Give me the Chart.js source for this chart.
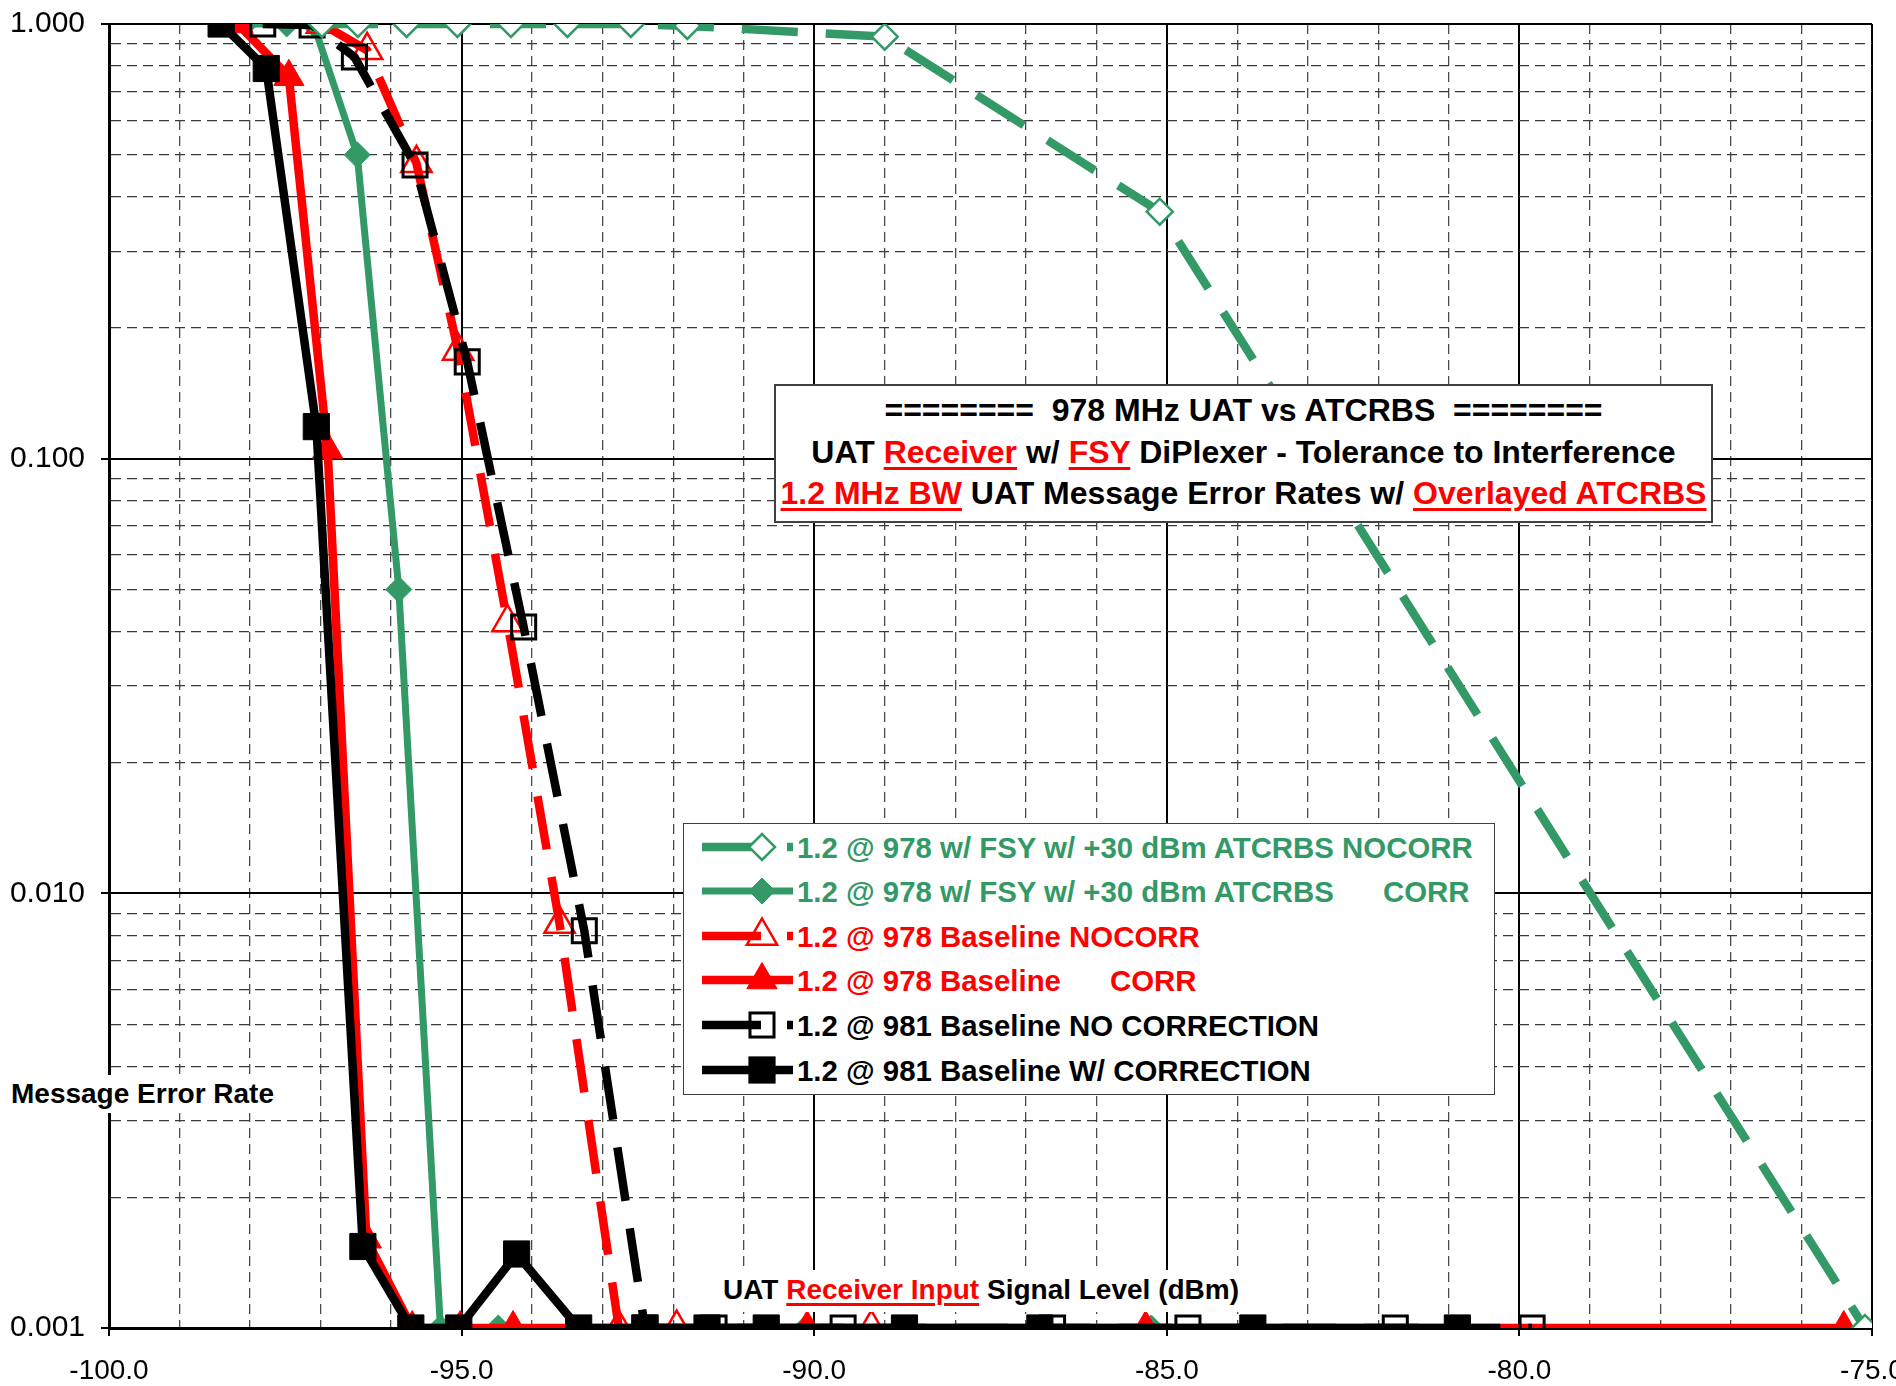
<!DOCTYPE html>
<html>
<head>
<meta charset="utf-8">
<script src="https://cdn.jsdelivr.net/npm/chart.js@4.4.1/dist/chart.umd.min.js"></script>
<style>
html,body{margin:0;padding:0;background:#fff;}
#wrap{position:relative;width:1896px;height:1386px;overflow:hidden;font-family:"Liberation Sans",Arial,Helvetica,sans-serif;background:#fff;}
#c{position:absolute;left:0;top:0;}
.ov{position:absolute;white-space:pre;font-weight:bold;color:#000;}
.u{color:#ff0000;text-decoration:underline;text-decoration-color:#ff0000;text-decoration-thickness:3px;text-underline-offset:4px;}
#ytitle{left:4px;top:1075px;height:38px;line-height:38px;font-size:28px;padding:0 7px;background:#fff;}
#xtitle{left:981px;top:1270px;height:42px;line-height:40px;font-size:28px;padding:0 6px;background:#fff;transform:translateX(-50%);}
#tbox{position:absolute;left:774px;top:384px;width:935px;height:131px;border:2px solid #404040;background:#fff;text-align:center;font-weight:bold;font-size:32px;line-height:41.5px;padding-top:4px;box-sizing:content-box;white-space:pre;}
#tbox div{height:41.5px;}
#legend{position:absolute;left:683px;top:823px;width:810px;height:270px;border:1.5px solid #404040;background:#fff;}
.lrow{position:absolute;left:0;height:44.6px;width:810px;}
.lrow svg{position:absolute;left:16px;top:0;}
.ltext{position:absolute;left:113px;top:0;line-height:44.6px;font-size:29.4px;font-weight:bold;white-space:pre;}
</style>
</head>
<body>
<div id="wrap">
  <canvas id="c" width="1896" height="1386"></canvas>
  <div id="tbox"><div>========  978 MHz UAT vs ATCRBS  ========</div><div>UAT <span class="u">Receiver</span> w/ <span class="u">FSY</span> DiPlexer - Tolerance to Interference</div><div><span class="u">1.2 MHz BW</span> UAT Message Error Rates w/ <span class="u">Overlayed ATCRBS</span></div></div>
  <div id="legend"></div>
  <div id="ytitle" class="ov">Message Error Rate</div>
  <div id="xtitle" class="ov">UAT <span class="u">Receiver Input</span> Signal Level (dBm)</div>
</div>
<script>
// ---------------- DATA ----------------
const seriesNames = [
  "1.2 @ 978 w/ FSY w/ +30 dBm ATCRBS NOCORR",
  "1.2 @ 978 w/ FSY w/ +30 dBm ATCRBS      CORR",
  "1.2 @ 978 Baseline NOCORR",
  "1.2 @ 978 Baseline      CORR",
  "1.2 @ 981 Baseline NO CORRECTION",
  "1.2 @ 981 Baseline W/ CORRECTION"
];

const greenNoCorrX = [-96.98, -96.47, -95.78, -95.06, -94.30, -93.50, -92.60, -91.80, -89.00, -85.10, -75.10];
const greenNoCorrY = [1.0, 1.0, 1.0, 1.0, 1.0, 1.0, 1.0, 0.99, 0.935, 0.37, 0.001];

const greenCorrX = [-98.07, -97.48, -97.10, -96.48, -95.89, -95.30, -94.48, -90.12, -85.22];
const greenCorrY = [1.0, 1.0, 1.0, 0.50, 0.05, 0.001, 0.001, 0.001, 0.001];

const redNoCorrX = [-96.98, -96.34, -95.64, -95.05, -94.35, -93.61, -92.77, -91.95, -89.19];
const redNoCorrY = [1.0, 0.87, 0.478, 0.177, 0.042, 0.0085, 0.001, 0.001, 0.001];

const redCorrX = [-98.17, -97.45, -96.90, -96.35, -95.70, -95.02, -94.27, -90.10, -85.30, -75.40];
const redCorrY = [1.0, 0.756, 0.105, 0.0016, 0.001, 0.001, 0.001, 0.001, 0.001, 0.001];

const blackNoCorrX = [-97.82, -97.12, -96.52, -95.66, -94.92, -94.12, -93.26, -92.40, -91.42, -89.59, -86.62, -84.70, -81.76, -79.82];
const blackNoCorrY = [1.0, 0.995, 0.84, 0.474, 0.167, 0.041, 0.0082, 0.001, 0.001, 0.001, 0.001, 0.001, 0.001, 0.001];

const blackCorrX = [-98.41, -97.77, -97.06, -96.40, -95.72, -95.04, -94.22, -93.34, -92.40, -91.52, -90.68, -88.72, -86.80, -83.78, -80.88];
const blackCorrY = [1.0, 0.79, 0.1185, 0.00154, 0.001, 0.001, 0.00148, 0.001, 0.001, 0.001, 0.001, 0.001, 0.001, 0.001, 0.001];

const xTickValues = [-100, -99, -98, -97, -96, -95, -94, -93, -92, -91, -90, -89, -88, -87, -86, -85, -84, -83, -82, -81, -80, -79, -78, -77, -76, -75];
const xMajorTickValues = [-100, -95, -90, -85, -80, -75];
const xMajorTickLabels = ["-100.0", "-95.0", "-90.0", "-85.0", "-80.0", "-75.0"];

const yTickValues = [0.001, 0.002, 0.003, 0.004, 0.005, 0.006, 0.007, 0.008, 0.009,
                     0.01, 0.02, 0.03, 0.04, 0.05, 0.06, 0.07, 0.08, 0.09,
                     0.1, 0.2, 0.3, 0.4, 0.5, 0.6, 0.7, 0.8, 0.9, 1];
const yMajorTickValues = [0.001, 0.01, 0.1, 1];
const yMajorTickLabels = ["0.001", "0.010", "0.100", "1.000"];

// ---------------- STYLE ----------------
const GREEN = "#339966";
const RED = "#ff0000";
const BLACK = "#000000";
const NONE = "rgba(0,0,0,0)";

const pts = (xs, ys) => xs.map((x, i) => ({x: x, y: ys[i]}));

const datasets = [
  {label: seriesNames[0], data: pts(greenNoCorrX, greenNoCorrY), borderColor: GREEN, borderWidth: 8.5, borderDash: [56, 28],
   pointStyle: "rectRot", pointRadius: 13, pointBorderWidth: 2.5, pointBorderColor: GREEN, pointBackgroundColor: "#ffffff", order: 0},
  {label: seriesNames[1], data: pts(greenCorrX, greenCorrY), borderColor: GREEN, borderWidth: 7, borderDash: [],
   pointStyle: "rectRot", pointRadius: 13, pointBorderWidth: 1, pointBorderColor: GREEN, pointBackgroundColor: GREEN, order: 5},
  {label: seriesNames[2], data: pts(redNoCorrX, redNoCorrY), borderColor: RED, borderWidth: 8.5, borderDash: [54, 28],
   pointStyle: "triangle", pointRadius: 17.5, pointBorderWidth: 2.5, pointBorderColor: RED, pointBackgroundColor: NONE, order: 4},
  {label: seriesNames[3], data: pts(redCorrX, redCorrY), borderColor: RED, borderWidth: 8.5, borderDash: [],
   pointStyle: "triangle", pointRadius: 17.5, pointBorderWidth: 1, pointBorderColor: RED, pointBackgroundColor: RED, order: 3},
  {label: seriesNames[4], data: pts(blackNoCorrX, blackNoCorrY), borderColor: BLACK, borderWidth: 8.5, borderDash: [54, 28],
   pointStyle: "rect", pointRadius: 17, pointBorderWidth: 3, pointBorderColor: BLACK, pointBackgroundColor: NONE, order: 2},
  {label: seriesNames[5], data: pts(blackCorrX, blackCorrY), borderColor: BLACK, borderWidth: 8.5, borderDash: [],
   pointStyle: "rect", pointRadius: 18.5, pointBorderWidth: 1, pointBorderColor: BLACK, pointBackgroundColor: BLACK, order: 1}
];
const legendColors = [GREEN, GREEN, RED, RED, BLACK, BLACK];
datasets.forEach(d => { d.tension = 0; d.borderCapStyle = "butt"; d.borderJoinStyle = "round"; d.fill = false; });

const isXMajor = v => xMajorTickValues.indexOf(v) >= 0;
const isYMajor = v => yMajorTickValues.indexOf(v) >= 0;
const FONT = "'Liberation Sans', Arial, Helvetica, sans-serif";

new Chart(document.getElementById("c"), {
  type: "line",
  data: {datasets: datasets},
  options: {
    responsive: false,
    animation: false,
    devicePixelRatio: 1,
    layout: {padding: {left: 0, right: 24, top: 24, bottom: 0}},
    plugins: {legend: {display: false}, tooltip: {enabled: false}, title: {display: false}},
    scales: {
      x: {
        type: "linear", min: -100, max: -75, position: "bottom",
        afterBuildTicks: s => { s.ticks = xTickValues.map(v => ({value: v})); },
        afterFit: s => { s.height = 58; s.paddingLeft = 0; s.paddingRight = 0; },
        ticks: {
          autoSkip: false, maxRotation: 0, minRotation: 0, padding: 18, color: "#000",
          font: {family: FONT, size: 28},
          callback: v => { const i = xMajorTickValues.indexOf(v); return i >= 0 ? xMajorTickLabels[i] : ""; }
        },
        grid: {
          color: c => (c.tick && isXMajor(c.tick.value)) ? "#000" : "#4a4a4a",
          lineWidth: c => (c.tick && isXMajor(c.tick.value)) ? 2 : 1.3,
          drawTicks: true, tickLength: 8, tickWidth: 2,
          tickColor: c => (c.tick && isXMajor(c.tick.value)) ? "#000" : NONE
        },
        border: {display: true, color: "#000", width: 3,
          dash: c => (c.tick && !isXMajor(c.tick.value)) ? [10, 6] : []}
      },
      y: {
        type: "logarithmic", min: 0.001, max: 1, position: "left",
        afterBuildTicks: s => { s.ticks = yTickValues.map(v => ({value: v})); },
        afterFit: s => { s.width = 109; s.paddingTop = 0; s.paddingBottom = 0; },
        ticks: {
          autoSkip: false, padding: 16, color: "#000",
          font: {family: FONT, size: 30},
          callback: v => { const i = yMajorTickValues.indexOf(v); return i >= 0 ? yMajorTickLabels[i] : ""; }
        },
        grid: {
          color: c => (c.tick && isYMajor(c.tick.value)) ? "#000" : "#3a3a3a",
          lineWidth: c => (c.tick && isYMajor(c.tick.value)) ? 2 : 1.3,
          drawTicks: true, tickLength: 8, tickWidth: 2,
          tickColor: c => (c.tick && isYMajor(c.tick.value)) ? "#000" : NONE
        },
        border: {display: true, color: "#000", width: 3,
          dash: c => (c.tick && !isYMajor(c.tick.value)) ? [10, 6] : []}
      }
    }
  }
});

// ---------------- HTML LEGEND (built from the datasets) ----------------
function markerSvg(d) {
  const cx = 62, cy = 21, r = d.pointRadius;
  const fill = d.pointBackgroundColor === NONE ? "none" : d.pointBackgroundColor;
  const st = `fill="${fill}" stroke="${d.pointBorderColor}" stroke-width="${d.pointBorderWidth}"`;
  if (d.pointStyle === "rect") {
    const h = Math.SQRT1_2 * r;
    return `<rect x="${cx - h}" y="${cy - h}" width="${2 * h}" height="${2 * h}" ${st}/>`;
  }
  if (d.pointStyle === "triangle") {
    return `<polygon points="${cx},${cy - r} ${cx + 0.866 * r},${cy + 0.5 * r} ${cx - 0.866 * r},${cy + 0.5 * r}" ${st}/>`;
  }
  return `<polygon points="${cx - r},${cy} ${cx},${cy - r} ${cx + r},${cy} ${cx},${cy + r}" ${st}/>`;
}
const legendEl = document.getElementById("legend");
datasets.forEach((d, i) => {
  const row = document.createElement("div");
  row.className = "lrow";
  row.style.top = (1.5 + 44.6 * i) + "px";
  const dashed = d.borderDash && d.borderDash.length;
  const lineAttr = dashed ? `stroke-dasharray="59 26 7 200"` : "";
  row.innerHTML =
    `<svg width="100" height="44" viewBox="0 0 100 44">` +
    `<line x1="2" y1="21" x2="93" y2="21" stroke="${d.borderColor}" stroke-width="${d.borderWidth}" ${lineAttr}/>` +
    markerSvg(d) + `</svg>` +
    `<div class="ltext" style="color:${legendColors[i]}"></div>`;
  row.querySelector(".ltext").textContent = d.label;
  legendEl.appendChild(row);
});
</script>
</body>
</html>
